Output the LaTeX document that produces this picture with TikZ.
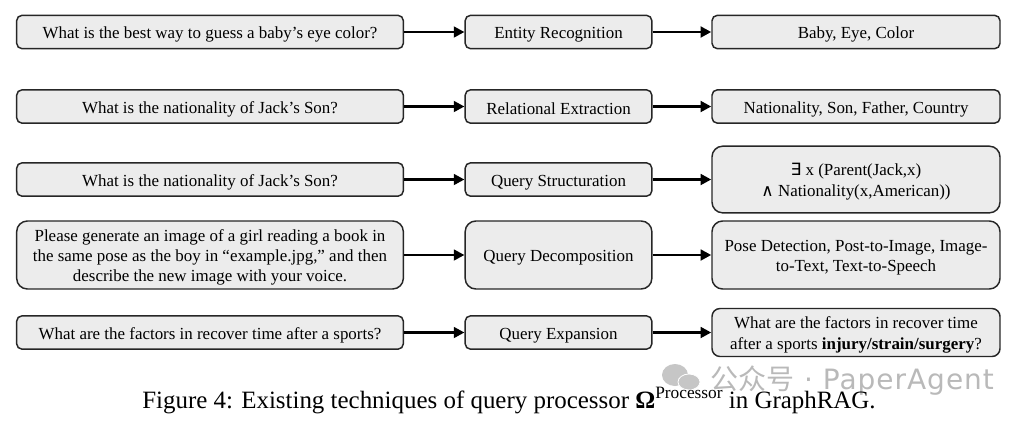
\documentclass[tikz,border=0pt]{standalone}
\usepackage{fontspec}
\setmainfont{Liberation Serif}
\newfontfamily\cjkfont{Noto Sans CJK SC}
\newfontfamily\markfont[LetterSpace=3.5]{DejaVu Sans}
\newfontfamily\symbfont{DejaVu Sans}
\usetikzlibrary{arrows.meta}
\newcommand{\topgap}{\rule{0pt}{12.6pt}}
\tikzset{
    procbox/.style={draw=black!85, fill=gray!15, line width=1.1pt, rounded corners=4pt, align=center, inner sep=0pt, font=\fontsize{12.7pt}{15.3pt}\selectfont},
    inbox/.style={procbox, minimum width=290pt},
    midbox/.style={procbox, minimum width=140pt},
    outbox/.style={procbox, minimum width=216pt},
    flowarrow/.style={line width=2.2pt, -{Stealth[length=8pt,width=8pt,inset=0pt]}}
}
\begin{document}
\begin{tikzpicture}[x=0.75pt, y=-0.75pt]
    \useasboundingbox (0,0) rectangle (1024,422);

    \node[inbox, minimum height=25pt] (in1) at (210,32) {\topgap What is the best way to guess a baby’s eye color?};
    \node[inbox, minimum height=25pt] (in2) at (210,106.5) {\topgap What is the nationality of Jack’s Son?};
    \node[inbox, minimum height=25pt] (in3) at (210,179.5) {\topgap What is the nationality of Jack’s Son?};
    \node[inbox, minimum height=51pt, rounded corners=8pt] (in4) at (210,255) {\topgap Please generate an image of a girl reading a book in\\the same pose as the boy in “example.jpg,” and then\\describe the new image with your voice.};
    \node[inbox, minimum height=25pt] (in5) at (210,332.5) {\topgap What are the factors in recover time after a sports?};

    \node[midbox, minimum height=25pt] (tech1) at (558.5,32) {\topgap Entity Recognition};
    \node[midbox, minimum height=25pt] (tech2) at (558.5,106.5) {\topgap Relational Extraction};
    \node[midbox, minimum height=25pt] (tech3) at (558.5,179.5) {\topgap Query Structuration};
    \node[midbox, minimum height=51pt, rounded corners=8pt] (tech4) at (558.5,255) {\topgap Query Decomposition};
    \node[midbox, minimum height=25pt] (tech5) at (558.5,332.5) {\topgap Query Expansion};

    \node[outbox, minimum height=25pt] (out1) at (856,32) {\topgap Baby, Eye, Color};
    \node[outbox, minimum height=25pt] (out2) at (856,106.5) {\topgap Nationality, Son, Father, Country};
    \node[outbox, minimum height=50pt, rounded corners=8pt] (out3) at (856,179.5) {\topgap{\symbfont ∃} x (Parent(Jack,x)\\{\symbfont ∧} Nationality(x,American))};
    \node[outbox, minimum height=51pt, rounded corners=8pt] (out4) at (856,255) {\topgap Pose Detection, Post-to-Image, Image-\\to-Text, Text-to-Speech};
    \node[outbox, minimum height=36pt, rounded corners=6pt] (out5) at (856,332.5) {\topgap What are the factors in recover time\\after a sports \textbf{injury/strain/surgery}?};

    \foreach \row in {1,...,5} {
        \draw[flowarrow] (in\row) -- (tech\row);
        \draw[flowarrow] (tech\row) -- (out\row);
    }

    % watermark
    \fill[gray!45] (675,375) ellipse (13 and 11);
    \fill[gray!45, draw=white, line width=0.6pt] (689,382) ellipse (11 and 8);
    \node[text=gray!55, anchor=west, inner sep=0pt, font=\fontsize{21pt}{21pt}\selectfont] (mark) at (710,381) {{\cjkfont 公众号}{\markfont\ ·\ PaperAgent}};

    \node[anchor=base, inner sep=0pt, font=\fontsize{18.7pt}{20pt}\selectfont] (caption) at (509,408) {Figure 4: Existing techniques of query processor \textbf{Ω}\raisebox{7.5pt}{\fontsize{13pt}{14pt}\selectfont Processor} in GraphRAG.};
\end{tikzpicture}
\end{document}
